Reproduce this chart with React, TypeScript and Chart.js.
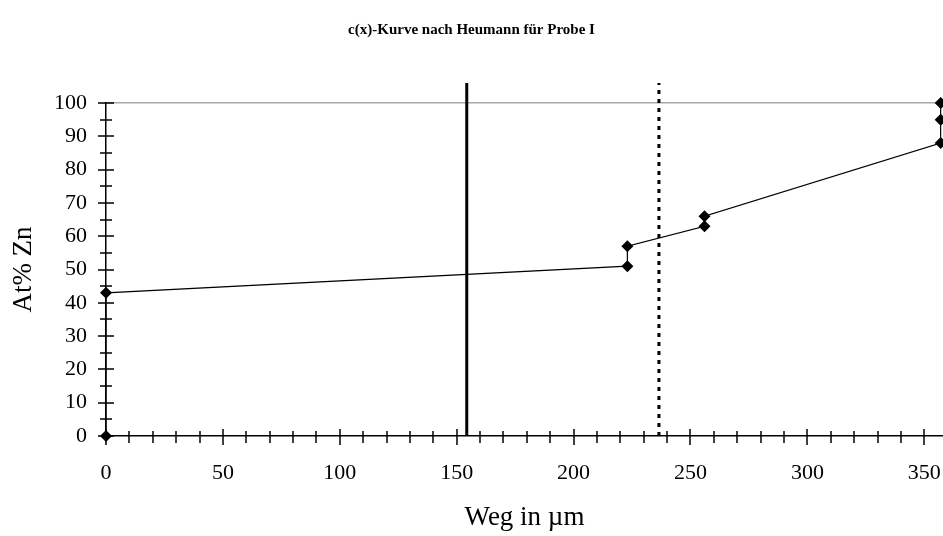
import React, { useEffect, useRef } from "react";
import { Chart, registerables } from "chart.js";

Chart.register(...registerables);

// Measured profile: distance (µm) and Zn content (at%)
const positions = [0, 0, 223, 223, 256, 256, 357, 357, 357];
const znContent = [0, 43, 51, 57, 63, 66, 88, 95, 100];

// Vertical reference lines (µm)
const solidMarkerX = 154.3;
const dashedMarkerX = 236.5;
const markerSpan = [0, 106];

const xMin = 0;
const xMax = 358;
const xLastTick = 350;
const yMin = 0;
const yMax = 100;

const titleText = "c(x)-Kurve nach Heumann für Probe I";
const xTitle = "Weg in µm";
const yTitle = "At% Zn";

const serif = "'Liberation Serif', 'Times New Roman', serif";

// Ticks that cross the axis lines on both sides
const crossTicks = {
  id: "crossTicks",
  afterDatasetsDraw(chart: any) {
    const { ctx, scales } = chart;
    const x = scales.x;
    const y = scales.y;
    ctx.save();
    ctx.strokeStyle = "#000";
    ctx.lineWidth = 1.5;
    ctx.beginPath();
    for (const t of x.ticks) {
      const px = Math.round(x.getPixelForValue(t.value));
      const major = t.value % 50 === 0;
      const up = major ? 7 : 5;
      const down = major ? 9 : 7;
      ctx.moveTo(px, y.bottom - up);
      ctx.lineTo(px, y.bottom + down);
    }
    for (const t of y.ticks) {
      const py = Math.round(y.getPixelForValue(t.value));
      const major = t.value % 10 === 0;
      const len = major ? 8 : 6;
      ctx.moveTo(x.left - len, py);
      ctx.lineTo(x.left + len, py);
    }
    ctx.stroke();
    ctx.restore();
  },
};

export default function App() {
  const ref = useRef<HTMLCanvasElement | null>(null);

  useEffect(() => {
    document.body.style.margin = "0";
    const canvas = ref.current!;
    const chart = new Chart(canvas, {
      type: "scatter",
      data: {
        datasets: [
          {
            label: "Zn",
            data: positions.map((x, i) => ({ x, y: znContent[i] })),
            showLine: true,
            borderColor: "#000",
            borderWidth: 1.2,
            pointStyle: "rectRot",
            pointRadius: 6,
            pointHoverRadius: 6,
            pointBackgroundColor: "#000",
            pointBorderColor: "#000",
            pointBorderWidth: 0,
            clip: false,
            order: 0,
          },
          {
            label: "solid",
            data: markerSpan.map((y) => ({ x: solidMarkerX, y })),
            showLine: true,
            borderColor: "#000",
            borderWidth: 3,
            pointRadius: 0,
            clip: false,
            order: 1,
          },
          {
            label: "dashed",
            data: markerSpan.map((y) => ({ x: dashedMarkerX, y })),
            showLine: true,
            borderColor: "#000",
            borderWidth: 3,
            borderDash: [4, 5],
            pointRadius: 0,
            clip: false,
            order: 1,
          },
        ],
      },
      options: {
        animation: false,
        responsive: false,
        maintainAspectRatio: false,
        layout: { padding: 0, autoPadding: false },
        plugins: {
          legend: { display: false },
          tooltip: { enabled: false },
          title: {
            display: true,
            text: titleText,
            color: "#000",
            font: { family: serif, size: 15, weight: "bold", lineHeight: 1.2 },
            padding: { top: 21, bottom: 64 },
          },
        },
        scales: {
          x: {
            type: "linear",
            min: xMin,
            max: xMax,
            afterBuildTicks: (scale: any) => {
              const ticks = [];
              for (let v = xMin; v <= xLastTick; v += 10) ticks.push({ value: v });
              scale.ticks = ticks;
            },
            afterFit: (scale: any) => {
              scale.height = 100;
              scale.paddingLeft = 0;
              scale.paddingRight = 0;
            },
            ticks: {
              autoSkip: false,
              maxRotation: 0,
              padding: 16,
              color: "#000",
              font: { family: serif, size: 22 },
              callback: (v: any) => (Number(v) % 50 === 0 ? String(v) : ""),
            },
            grid: { display: false },
            border: { display: true, color: "#000", width: 1.5 },
            title: {
              display: true,
              text: xTitle,
              color: "#000",
              font: { family: serif, size: 27 },
              padding: { top: 0, bottom: 2 },
            },
          },
          y: {
            type: "linear",
            min: yMin,
            max: yMax,
            afterBuildTicks: (scale: any) => {
              const ticks = [];
              for (let v = yMin; v <= yMax; v += 5) ticks.push({ value: v });
              scale.ticks = ticks;
            },
            afterFit: (scale: any) => {
              scale.width = 106;
              scale.paddingTop = 0;
              scale.paddingBottom = 0;
            },
            ticks: {
              autoSkip: false,
              padding: 19,
              color: "#000",
              font: { family: serif, size: 22 },
              callback: (v: any) => (Number(v) % 10 === 0 ? String(v) : ""),
            },
            grid: {
              display: true,
              drawTicks: false,
              drawOnChartArea: true,
              lineWidth: 1.5,
              color: (c: any) => (c.tick && c.tick.value === 100 ? "#a8a8a8" : "rgba(0,0,0,0)"),
            },
            border: { display: true, color: "#000", width: 1.5 },
            title: {
              display: true,
              text: yTitle,
              color: "#000",
              font: { family: serif, size: 27 },
              padding: { top: 8, bottom: 0 },
            },
          },
        },
      },
      plugins: [crossTicks],
    });
    return () => chart.destroy();
  }, []);

  return (
    <div style={{ position: "absolute", left: 0, top: 0, width: 943, height: 536, overflow: "hidden", background: "#fff" }}>
      <canvas ref={ref} width={943} height={536} />
    </div>
  );
}
